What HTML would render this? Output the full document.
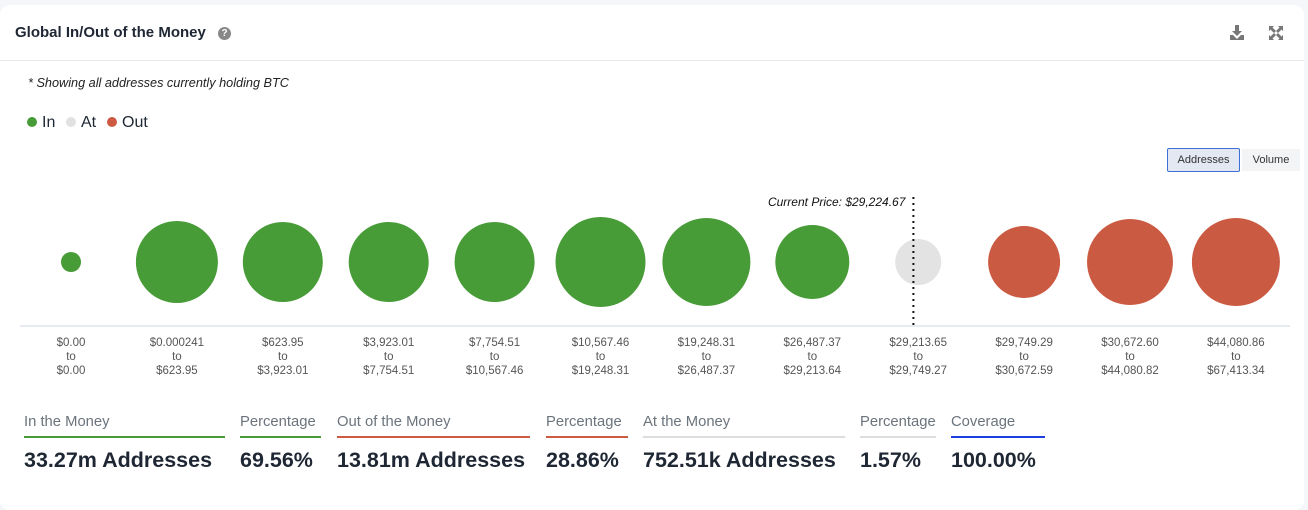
<!DOCTYPE html>
<html><head><meta charset="utf-8"><style>
body{margin:0;width:1308px;height:510px;background:#f5f6fa;font-family:"Liberation Sans",sans-serif;overflow:hidden;position:relative}
.card{position:absolute;left:0;top:5px;width:1304px;height:505px;background:#fff;border-radius:10px}
.abs{position:absolute}
.title{left:15px;top:24px;font-size:15px;color:#1e2733;font-weight:bold}
.note{left:28px;top:76px;font-size:12.7px;font-style:italic;color:#222}
.leg{top:114px;font-size:16px;color:#1e2733}
.dot{display:inline-block;width:10px;height:10px;border-radius:50%;margin-right:5px;vertical-align:0}
.btn{top:148px;height:22px;font-size:11px;line-height:22px;text-align:center;color:#333}
.stat{top:414px}
.stat .l{font-size:14.8px;color:#6b737c;padding-bottom:6px;border-bottom:2px solid}
.stat .v{font-size:21.5px;font-weight:bold;color:#1e2733;margin-top:10px;white-space:nowrap}
</style></head><body>
<div class="card"></div>
<div class="abs title">Global In/Out of the Money <span style="display:inline-block;width:13px;height:13px;border-radius:50%;background:#888;color:#fff;font-size:10px;text-align:center;line-height:13px;margin-left:8px;vertical-align:1px">?</span></div>
<svg class="abs" style="left:1228px;top:24px" width="18" height="18"><path d="M7 1h4v6h3l-5 5-5-5h3z M2 11h3l4 4 4-4h3v5H2z" fill="#777"/></svg>
<svg class="abs" style="left:1268px;top:25px" width="16" height="16"><path d="M1 1h5L4.5 2.5 8 6 6 8 2.5 4.5 1 6z M15 1v5l-1.5-1.5L10 8 8 6l3.5-3.5L10 1z M1 15v-5l1.5 1.5L6 8l2 2-3.5 3.5L6 15z M15 15h-5l1.5-1.5L8 10l2-2 3.5 3.5L15 10z" fill="#777"/></svg>
<div class="abs" style="left:0;top:60px;width:1304px;height:1px;background:#e8e9ee"></div>
<div class="abs note">* Showing all addresses currently holding BTC</div>
<div class="abs leg" style="left:27px"><span class="dot" style="background:#489c38"></span>In</div>
<div class="abs leg" style="left:66px"><span class="dot" style="background:#e1e1e1"></span>At</div>
<div class="abs leg" style="left:107px"><span class="dot" style="background:#cb5a42"></span>Out</div>
<div class="abs btn" style="left:1167px;width:71px;border:1px solid #3d6fd6;background:#e3e8f3;border-radius:2px">Addresses</div>
<div class="abs btn" style="left:1242px;width:58px;top:149px;background:#f3f4f6">Volume</div>
<svg id="chart" class="abs" style="left:0;top:180px" width="1308" height="200"></svg>

<div class="abs stat" style="left:24px;width:201px"><div class="l" style="border-color:#489c38">In the Money</div><div class="v">33.27m Addresses</div></div>
<div class="abs stat" style="left:240px;width:81px"><div class="l" style="border-color:#489c38">Percentage</div><div class="v">69.56%</div></div>
<div class="abs stat" style="left:337px;width:193px"><div class="l" style="border-color:#cb5a42">Out of the Money</div><div class="v">13.81m Addresses</div></div>
<div class="abs stat" style="left:546px;width:82px"><div class="l" style="border-color:#cb5a42">Percentage</div><div class="v">28.86%</div></div>
<div class="abs stat" style="left:643px;width:202px"><div class="l" style="border-color:#ddd">At the Money</div><div class="v">752.51k Addresses</div></div>
<div class="abs stat" style="left:860px;width:76px"><div class="l" style="border-color:#ddd">Percentage</div><div class="v">1.57%</div></div>
<div class="abs stat" style="left:951px;width:94px"><div class="l" style="border-color:#1d3fe0">Coverage</div><div class="v">100.00%</div></div>

<script>
const lowLabels=["$0.00","$0.000241","$623.95","$3,923.01","$7,754.51","$10,567.46","$19,248.31","$26,487.37","$29,213.65","$29,749.29","$30,672.60","$44,080.86"];
const highLabels=["$0.00","$623.95","$3,923.01","$7,754.51","$10,567.46","$19,248.31","$26,487.37","$29,213.64","$29,749.27","$30,672.59","$44,080.82","$67,413.34"];
const addresses=[0.28,4.70,4.47,4.47,4.47,5.66,5.41,3.82,1.48,3.62,5.16,5.41];
const status=["in","in","in","in","in","in","in","in","at","out","out","out"];
const currentPrice=29224.67;
const currentPriceLabel="Current Price: $29,224.67";

const NS="http://www.w3.org/2000/svg";
const svg=document.getElementById('chart');
const colors={in:"#489c38",at:"#e3e3e3",out:"#cb5a42"};
const x0=71,step=105.9,cy=82,axisY=146;
const maxV=Math.max(...addresses),maxR=45;
function xPos(i){return x0+i*step;}
function rScale(v){return maxR*Math.sqrt(v/maxV);}
function mk(t,a){const e=document.createElementNS(NS,t);for(const k in a)e.setAttribute(k,a[k]);svg.appendChild(e);return e;}
const ax=mk('line',{x1:20,x2:1290,y1:axisY,y2:axisY,stroke:'#cfd6e0','stroke-width':1});


addresses.forEach((v,i)=>{
  const c=mk('circle',{cx:xPos(i),cy:cy,r:rScale(v),fill:colors[status[i]]});
  
  
  const t=mk('text',{x:xPos(i),y:axisY+20,'text-anchor':'middle','font-size':11.5,fill:'#555','font-family':'Liberation Sans, sans-serif'});
  
  
  [lowLabels[i],"to",highLabels[i]].forEach((s,j)=>{const ts=document.createElementNS(NS,'tspan');ts.setAttribute('x',xPos(i));ts.setAttribute('dy',j?14:0);ts.textContent=s;t.appendChild(ts);});
});
let idx=status.indexOf('at');
const lo=parseFloat(lowLabels[idx].replace(/[$,]/g,'')),hi=parseFloat(highLabels[idx].replace(/[$,]/g,''));
const px=xPos(idx)+((currentPrice-lo)/(hi-lo)-0.5)*10;
const pl=mk('line',{x1:px,x2:px,y1:17,y2:axisY,stroke:'#111','stroke-width':2,'stroke-dasharray':'2,4'});


const pt=mk('text',{x:px-8,y:26,'text-anchor':'end','font-size':12,'font-style':'italic',fill:'#111','font-family':'Liberation Sans, sans-serif'});
pt.textContent=currentPriceLabel;


</script>
</body></html>
